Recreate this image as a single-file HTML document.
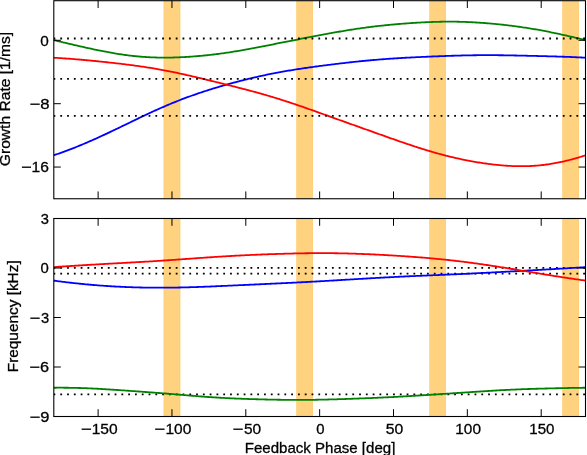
<!DOCTYPE html>
<html><head><meta charset="utf-8"><style>
html,body{margin:0;padding:0;background:#fff;width:587px;height:455px;overflow:hidden;font-family:"Liberation Sans",sans-serif}
</style></head><body>
<svg width="587" height="455" viewBox="0 0 587 455" style="display:block;will-change:transform">
<rect width="587" height="455" fill="#fff"/>
<defs><clipPath id="ct"><rect x="53.8" y="0.7" width="531.7" height="198.05"/></clipPath><clipPath id="cb"><rect x="53.8" y="218.5" width="531.7" height="198"/></clipPath></defs>
<g clip-path="url(#ct)">
<rect x="163.60" y="-1.3" width="16.70" height="202.05" fill="#ffa500" fill-opacity="0.5"/>
<rect x="163.90" y="-1.3" width="16.10" height="202.05" fill="none" stroke="#ffa500" stroke-opacity="0.15" stroke-width="0.8"/>
<rect x="296.30" y="-1.3" width="16.60" height="202.05" fill="#ffa500" fill-opacity="0.5"/>
<rect x="296.60" y="-1.3" width="16.00" height="202.05" fill="none" stroke="#ffa500" stroke-opacity="0.15" stroke-width="0.8"/>
<rect x="429.30" y="-1.3" width="16.60" height="202.05" fill="#ffa500" fill-opacity="0.5"/>
<rect x="429.60" y="-1.3" width="16.00" height="202.05" fill="none" stroke="#ffa500" stroke-opacity="0.15" stroke-width="0.8"/>
<rect x="562.30" y="-1.3" width="16.60" height="202.05" fill="#ffa500" fill-opacity="0.5"/>
<rect x="562.60" y="-1.3" width="16.00" height="202.05" fill="none" stroke="#ffa500" stroke-opacity="0.15" stroke-width="0.8"/>
<path d="M53.50,155.32 L54.83,154.89 L56.17,154.44 L57.50,153.99 L58.83,153.53 L60.17,153.07 L61.50,152.59 L62.83,152.12 L64.17,151.63 L65.50,151.14 L66.83,150.65 L68.17,150.15 L69.50,149.64 L70.83,149.13 L72.17,148.61 L73.50,148.09 L74.83,147.56 L76.17,147.02 L77.50,146.49 L78.83,145.94 L80.17,145.39 L81.50,144.84 L82.83,144.28 L84.17,143.72 L85.50,143.15 L86.83,142.58 L88.17,142.01 L89.50,141.43 L90.83,140.84 L92.17,140.26 L93.50,139.66 L94.83,139.07 L96.17,138.47 L97.50,137.87 L98.83,137.26 L100.17,136.65 L101.50,136.04 L102.83,135.42 L104.17,134.81 L105.50,134.18 L106.83,133.56 L108.17,132.93 L109.50,132.31 L110.83,131.67 L112.17,131.04 L113.50,130.40 L114.83,129.77 L116.17,129.13 L117.50,128.49 L118.83,127.85 L120.17,127.20 L121.50,126.56 L122.83,125.91 L124.17,125.27 L125.50,124.62 L126.83,123.98 L128.17,123.33 L129.50,122.69 L130.83,122.04 L132.17,121.39 L133.50,120.75 L134.83,120.11 L136.17,119.46 L137.50,118.82 L138.83,118.18 L140.17,117.54 L141.50,116.91 L142.83,116.27 L144.17,115.64 L145.50,115.01 L146.83,114.39 L148.17,113.76 L149.50,113.14 L150.83,112.52 L152.17,111.91 L153.50,111.30 L154.83,110.69 L156.17,110.09 L157.50,109.49 L158.83,108.89 L160.17,108.30 L161.50,107.71 L162.83,107.13 L164.17,106.55 L165.50,105.98 L166.83,105.41 L168.17,104.84 L169.50,104.28 L170.83,103.73 L172.17,103.18 L173.50,102.63 L174.83,102.09 L176.17,101.56 L177.50,101.03 L178.83,100.50 L180.17,99.98 L181.50,99.46 L182.83,98.95 L184.17,98.45 L185.50,97.95 L186.83,97.45 L188.17,96.96 L189.50,96.48 L190.83,95.99 L192.17,95.52 L193.50,95.05 L194.83,94.58 L196.17,94.12 L197.50,93.66 L198.83,93.20 L200.17,92.75 L201.50,92.31 L202.83,91.87 L204.17,91.43 L205.50,91.00 L206.83,90.57 L208.17,90.14 L209.50,89.72 L210.83,89.30 L212.17,88.89 L213.50,88.48 L214.83,88.07 L216.17,87.67 L217.50,87.27 L218.83,86.87 L220.17,86.48 L221.50,86.09 L222.83,85.70 L224.17,85.32 L225.50,84.94 L226.83,84.56 L228.17,84.19 L229.50,83.82 L230.83,83.45 L232.17,83.09 L233.50,82.73 L234.83,82.37 L236.17,82.01 L237.50,81.66 L238.83,81.31 L240.17,80.97 L241.50,80.63 L242.83,80.29 L244.17,79.95 L245.50,79.62 L246.83,79.29 L248.17,78.96 L249.50,78.64 L250.83,78.32 L252.17,78.00 L253.50,77.69 L254.83,77.38 L256.17,77.07 L257.50,76.76 L258.83,76.46 L260.17,76.17 L261.50,75.87 L262.83,75.58 L264.17,75.30 L265.50,75.01 L266.83,74.74 L268.17,74.46 L269.50,74.19 L270.83,73.92 L272.17,73.65 L273.50,73.39 L274.83,73.13 L276.17,72.87 L277.50,72.62 L278.83,72.37 L280.17,72.13 L281.50,71.88 L282.83,71.64 L284.17,71.41 L285.50,71.17 L286.83,70.94 L288.17,70.72 L289.50,70.49 L290.83,70.27 L292.17,70.05 L293.50,69.84 L294.83,69.62 L296.17,69.41 L297.50,69.20 L298.83,69.00 L300.17,68.80 L301.50,68.59 L302.83,68.40 L304.17,68.20 L305.50,68.00 L306.83,67.81 L308.17,67.62 L309.50,67.43 L310.83,67.24 L312.17,67.06 L313.50,66.88 L314.83,66.69 L316.17,66.51 L317.50,66.33 L318.83,66.16 L320.17,65.98 L321.50,65.80 L322.83,65.63 L324.17,65.46 L325.50,65.29 L326.83,65.12 L328.17,64.95 L329.50,64.78 L330.83,64.61 L332.17,64.45 L333.50,64.29 L334.83,64.12 L336.17,63.96 L337.50,63.80 L338.83,63.64 L340.17,63.48 L341.50,63.33 L342.83,63.17 L344.17,63.02 L345.50,62.86 L346.83,62.71 L348.17,62.56 L349.50,62.41 L350.83,62.26 L352.17,62.12 L353.50,61.97 L354.83,61.83 L356.17,61.69 L357.50,61.55 L358.83,61.41 L360.17,61.27 L361.50,61.14 L362.83,61.01 L364.17,60.87 L365.50,60.74 L366.83,60.62 L368.17,60.49 L369.50,60.37 L370.83,60.25 L372.17,60.13 L373.50,60.01 L374.83,59.89 L376.17,59.78 L377.50,59.67 L378.83,59.56 L380.17,59.45 L381.50,59.35 L382.83,59.24 L384.17,59.14 L385.50,59.04 L386.83,58.95 L388.17,58.85 L389.50,58.76 L390.83,58.66 L392.17,58.57 L393.50,58.49 L394.83,58.40 L396.17,58.32 L397.50,58.23 L398.83,58.15 L400.17,58.07 L401.50,57.99 L402.83,57.92 L404.17,57.84 L405.50,57.77 L406.83,57.70 L408.17,57.62 L409.50,57.55 L410.83,57.49 L412.17,57.42 L413.50,57.35 L414.83,57.29 L416.17,57.22 L417.50,57.16 L418.83,57.09 L420.17,57.03 L421.50,56.97 L422.83,56.91 L424.17,56.85 L425.50,56.79 L426.83,56.73 L428.17,56.68 L429.50,56.62 L430.83,56.56 L432.17,56.51 L433.50,56.45 L434.83,56.40 L436.17,56.35 L437.50,56.29 L438.83,56.24 L440.17,56.19 L441.50,56.14 L442.83,56.09 L444.17,56.04 L445.50,56.00 L446.83,55.95 L448.17,55.90 L449.50,55.86 L450.83,55.81 L452.17,55.77 L453.50,55.73 L454.83,55.69 L456.17,55.65 L457.50,55.61 L458.83,55.57 L460.17,55.54 L461.50,55.50 L462.83,55.47 L464.17,55.44 L465.50,55.41 L466.83,55.38 L468.17,55.35 L469.50,55.33 L470.83,55.31 L472.17,55.29 L473.50,55.27 L474.83,55.25 L476.17,55.23 L477.50,55.22 L478.83,55.20 L480.17,55.19 L481.50,55.18 L482.83,55.18 L484.17,55.17 L485.50,55.17 L486.83,55.17 L488.17,55.17 L489.50,55.17 L490.83,55.17 L492.17,55.18 L493.50,55.18 L494.83,55.19 L496.17,55.20 L497.50,55.21 L498.83,55.23 L500.17,55.24 L501.50,55.26 L502.83,55.27 L504.17,55.29 L505.50,55.31 L506.83,55.33 L508.17,55.36 L509.50,55.38 L510.83,55.40 L512.17,55.43 L513.50,55.45 L514.83,55.48 L516.17,55.51 L517.50,55.53 L518.83,55.56 L520.17,55.59 L521.50,55.62 L522.83,55.65 L524.17,55.68 L525.50,55.71 L526.83,55.75 L528.17,55.78 L529.50,55.81 L530.83,55.84 L532.17,55.87 L533.50,55.91 L534.83,55.94 L536.17,55.97 L537.50,56.01 L538.83,56.04 L540.17,56.07 L541.50,56.11 L542.83,56.14 L544.17,56.18 L545.50,56.21 L546.83,56.25 L548.17,56.28 L549.50,56.32 L550.83,56.36 L552.17,56.40 L553.50,56.43 L554.83,56.47 L556.17,56.51 L557.50,56.55 L558.83,56.60 L560.17,56.64 L561.50,56.68 L562.83,56.73 L564.17,56.77 L565.50,56.82 L566.83,56.87 L568.17,56.92 L569.50,56.97 L570.83,57.02 L572.17,57.08 L573.50,57.13 L574.83,57.19 L576.17,57.25 L577.50,57.31 L578.83,57.38 L580.17,57.44 L581.50,57.51 L582.83,57.58 L584.17,57.65 L585.50,57.72" fill="none" stroke="#0000ff" stroke-width="1.8" stroke-linejoin="round"/>
<path d="M53.50,57.72 L54.83,57.80 L56.17,57.87 L57.50,57.95 L58.83,58.04 L60.17,58.12 L61.50,58.21 L62.83,58.29 L64.17,58.38 L65.50,58.48 L66.83,58.57 L68.17,58.67 L69.50,58.77 L70.83,58.87 L72.17,58.97 L73.50,59.08 L74.83,59.18 L76.17,59.29 L77.50,59.40 L78.83,59.51 L80.17,59.63 L81.50,59.74 L82.83,59.86 L84.17,59.98 L85.50,60.10 L86.83,60.23 L88.17,60.35 L89.50,60.47 L90.83,60.60 L92.17,60.73 L93.50,60.86 L94.83,60.99 L96.17,61.12 L97.50,61.26 L98.83,61.39 L100.17,61.53 L101.50,61.67 L102.83,61.81 L104.17,61.95 L105.50,62.09 L106.83,62.23 L108.17,62.37 L109.50,62.52 L110.83,62.67 L112.17,62.81 L113.50,62.96 L114.83,63.11 L116.17,63.27 L117.50,63.42 L118.83,63.58 L120.17,63.73 L121.50,63.89 L122.83,64.05 L124.17,64.21 L125.50,64.38 L126.83,64.54 L128.17,64.71 L129.50,64.88 L130.83,65.05 L132.17,65.23 L133.50,65.41 L134.83,65.59 L136.17,65.77 L137.50,65.95 L138.83,66.14 L140.17,66.33 L141.50,66.52 L142.83,66.72 L144.17,66.92 L145.50,67.12 L146.83,67.32 L148.17,67.53 L149.50,67.75 L150.83,67.96 L152.17,68.18 L153.50,68.40 L154.83,68.63 L156.17,68.85 L157.50,69.09 L158.83,69.32 L160.17,69.56 L161.50,69.81 L162.83,70.05 L164.17,70.30 L165.50,70.56 L166.83,70.81 L168.17,71.07 L169.50,71.34 L170.83,71.60 L172.17,71.87 L173.50,72.15 L174.83,72.43 L176.17,72.71 L177.50,72.99 L178.83,73.27 L180.17,73.56 L181.50,73.85 L182.83,74.15 L184.17,74.45 L185.50,74.75 L186.83,75.05 L188.17,75.35 L189.50,75.66 L190.83,75.97 L192.17,76.28 L193.50,76.59 L194.83,76.90 L196.17,77.22 L197.50,77.53 L198.83,77.85 L200.17,78.17 L201.50,78.49 L202.83,78.81 L204.17,79.14 L205.50,79.46 L206.83,79.78 L208.17,80.11 L209.50,80.44 L210.83,80.76 L212.17,81.09 L213.50,81.42 L214.83,81.75 L216.17,82.08 L217.50,82.41 L218.83,82.74 L220.17,83.07 L221.50,83.40 L222.83,83.73 L224.17,84.06 L225.50,84.39 L226.83,84.73 L228.17,85.06 L229.50,85.40 L230.83,85.73 L232.17,86.07 L233.50,86.40 L234.83,86.74 L236.17,87.08 L237.50,87.42 L238.83,87.76 L240.17,88.10 L241.50,88.45 L242.83,88.79 L244.17,89.14 L245.50,89.49 L246.83,89.84 L248.17,90.19 L249.50,90.54 L250.83,90.90 L252.17,91.25 L253.50,91.61 L254.83,91.97 L256.17,92.34 L257.50,92.71 L258.83,93.08 L260.17,93.45 L261.50,93.82 L262.83,94.20 L264.17,94.58 L265.50,94.97 L266.83,95.35 L268.17,95.74 L269.50,96.13 L270.83,96.53 L272.17,96.93 L273.50,97.33 L274.83,97.74 L276.17,98.15 L277.50,98.56 L278.83,98.97 L280.17,99.39 L281.50,99.81 L282.83,100.24 L284.17,100.66 L285.50,101.09 L286.83,101.53 L288.17,101.96 L289.50,102.40 L290.83,102.84 L292.17,103.29 L293.50,103.73 L294.83,104.18 L296.17,104.64 L297.50,105.09 L298.83,105.55 L300.17,106.00 L301.50,106.46 L302.83,106.93 L304.17,107.39 L305.50,107.86 L306.83,108.32 L308.17,108.79 L309.50,109.26 L310.83,109.73 L312.17,110.21 L313.50,110.68 L314.83,111.15 L316.17,111.63 L317.50,112.10 L318.83,112.58 L320.17,113.06 L321.50,113.54 L322.83,114.01 L324.17,114.49 L325.50,114.97 L326.83,115.45 L328.17,115.93 L329.50,116.41 L330.83,116.88 L332.17,117.36 L333.50,117.84 L334.83,118.32 L336.17,118.80 L337.50,119.28 L338.83,119.75 L340.17,120.23 L341.50,120.71 L342.83,121.19 L344.17,121.66 L345.50,122.14 L346.83,122.62 L348.17,123.09 L349.50,123.57 L350.83,124.05 L352.17,124.52 L353.50,125.00 L354.83,125.47 L356.17,125.95 L357.50,126.42 L358.83,126.90 L360.17,127.37 L361.50,127.85 L362.83,128.32 L364.17,128.80 L365.50,129.27 L366.83,129.75 L368.17,130.22 L369.50,130.70 L370.83,131.17 L372.17,131.65 L373.50,132.12 L374.83,132.60 L376.17,133.07 L377.50,133.55 L378.83,134.02 L380.17,134.50 L381.50,134.97 L382.83,135.44 L384.17,135.92 L385.50,136.39 L386.83,136.86 L388.17,137.33 L389.50,137.81 L390.83,138.28 L392.17,138.74 L393.50,139.21 L394.83,139.68 L396.17,140.15 L397.50,140.61 L398.83,141.08 L400.17,141.54 L401.50,142.00 L402.83,142.46 L404.17,142.92 L405.50,143.37 L406.83,143.82 L408.17,144.27 L409.50,144.72 L410.83,145.17 L412.17,145.61 L413.50,146.05 L414.83,146.49 L416.17,146.93 L417.50,147.36 L418.83,147.79 L420.17,148.21 L421.50,148.63 L422.83,149.05 L424.17,149.47 L425.50,149.88 L426.83,150.28 L428.17,150.69 L429.50,151.08 L430.83,151.48 L432.17,151.87 L433.50,152.26 L434.83,152.64 L436.17,153.01 L437.50,153.39 L438.83,153.75 L440.17,154.12 L441.50,154.48 L442.83,154.83 L444.17,155.18 L445.50,155.52 L446.83,155.86 L448.17,156.20 L449.50,156.52 L450.83,156.85 L452.17,157.17 L453.50,157.48 L454.83,157.79 L456.17,158.10 L457.50,158.40 L458.83,158.69 L460.17,158.98 L461.50,159.27 L462.83,159.54 L464.17,159.82 L465.50,160.09 L466.83,160.35 L468.17,160.61 L469.50,160.87 L470.83,161.12 L472.17,161.36 L473.50,161.60 L474.83,161.83 L476.17,162.06 L477.50,162.28 L478.83,162.50 L480.17,162.71 L481.50,162.92 L482.83,163.12 L484.17,163.32 L485.50,163.51 L486.83,163.70 L488.17,163.88 L489.50,164.05 L490.83,164.22 L492.17,164.38 L493.50,164.54 L494.83,164.69 L496.17,164.83 L497.50,164.97 L498.83,165.10 L500.17,165.22 L501.50,165.34 L502.83,165.45 L504.17,165.56 L505.50,165.65 L506.83,165.74 L508.17,165.82 L509.50,165.90 L510.83,165.97 L512.17,166.03 L513.50,166.08 L514.83,166.12 L516.17,166.16 L517.50,166.19 L518.83,166.21 L520.17,166.22 L521.50,166.22 L522.83,166.21 L524.17,166.20 L525.50,166.17 L526.83,166.14 L528.17,166.10 L529.50,166.04 L530.83,165.98 L532.17,165.91 L533.50,165.83 L534.83,165.74 L536.17,165.64 L537.50,165.53 L538.83,165.41 L540.17,165.28 L541.50,165.15 L542.83,165.00 L544.17,164.84 L545.50,164.67 L546.83,164.49 L548.17,164.30 L549.50,164.11 L550.83,163.90 L552.17,163.68 L553.50,163.46 L554.83,163.22 L556.17,162.97 L557.50,162.72 L558.83,162.45 L560.17,162.18 L561.50,161.89 L562.83,161.60 L564.17,161.30 L565.50,160.99 L566.83,160.67 L568.17,160.34 L569.50,160.00 L570.83,159.66 L572.17,159.30 L573.50,158.94 L574.83,158.57 L576.17,158.19 L577.50,157.80 L578.83,157.41 L580.17,157.01 L581.50,156.60 L582.83,156.18 L584.17,155.76 L585.50,155.32" fill="none" stroke="#ff0000" stroke-width="1.8" stroke-linejoin="round"/>
<path d="M53.50,40.06 L54.83,40.37 L56.17,40.69 L57.50,41.01 L58.83,41.33 L60.17,41.64 L61.50,41.96 L62.83,42.28 L64.17,42.59 L65.50,42.91 L66.83,43.22 L68.17,43.54 L69.50,43.85 L70.83,44.16 L72.17,44.48 L73.50,44.79 L74.83,45.10 L76.17,45.41 L77.50,45.72 L78.83,46.02 L80.17,46.33 L81.50,46.63 L82.83,46.93 L84.17,47.23 L85.50,47.53 L86.83,47.83 L88.17,48.12 L89.50,48.41 L90.83,48.70 L92.17,48.99 L93.50,49.28 L94.83,49.56 L96.17,49.84 L97.50,50.12 L98.83,50.39 L100.17,50.66 L101.50,50.93 L102.83,51.19 L104.17,51.45 L105.50,51.71 L106.83,51.96 L108.17,52.21 L109.50,52.45 L110.83,52.69 L112.17,52.93 L113.50,53.16 L114.83,53.39 L116.17,53.61 L117.50,53.82 L118.83,54.04 L120.17,54.24 L121.50,54.44 L122.83,54.64 L124.17,54.83 L125.50,55.01 L126.83,55.19 L128.17,55.36 L129.50,55.53 L130.83,55.69 L132.17,55.84 L133.50,55.99 L134.83,56.13 L136.17,56.26 L137.50,56.39 L138.83,56.51 L140.17,56.63 L141.50,56.74 L142.83,56.84 L144.17,56.94 L145.50,57.02 L146.83,57.11 L148.17,57.18 L149.50,57.25 L150.83,57.32 L152.17,57.38 L153.50,57.43 L154.83,57.47 L156.17,57.51 L157.50,57.54 L158.83,57.57 L160.17,57.59 L161.50,57.61 L162.83,57.62 L164.17,57.62 L165.50,57.62 L166.83,57.61 L168.17,57.60 L169.50,57.58 L170.83,57.56 L172.17,57.53 L173.50,57.50 L174.83,57.46 L176.17,57.42 L177.50,57.37 L178.83,57.32 L180.17,57.26 L181.50,57.20 L182.83,57.13 L184.17,57.06 L185.50,56.99 L186.83,56.91 L188.17,56.83 L189.50,56.74 L190.83,56.65 L192.17,56.56 L193.50,56.46 L194.83,56.35 L196.17,56.25 L197.50,56.14 L198.83,56.02 L200.17,55.90 L201.50,55.78 L202.83,55.65 L204.17,55.52 L205.50,55.39 L206.83,55.25 L208.17,55.11 L209.50,54.96 L210.83,54.81 L212.17,54.66 L213.50,54.50 L214.83,54.34 L216.17,54.18 L217.50,54.01 L218.83,53.84 L220.17,53.66 L221.50,53.48 L222.83,53.30 L224.17,53.11 L225.50,52.92 L226.83,52.72 L228.17,52.52 L229.50,52.32 L230.83,52.12 L232.17,51.91 L233.50,51.70 L234.83,51.48 L236.17,51.26 L237.50,51.04 L238.83,50.82 L240.17,50.59 L241.50,50.36 L242.83,50.12 L244.17,49.89 L245.50,49.65 L246.83,49.41 L248.17,49.17 L249.50,48.92 L250.83,48.68 L252.17,48.43 L253.50,48.18 L254.83,47.92 L256.17,47.67 L257.50,47.41 L258.83,47.16 L260.17,46.90 L261.50,46.64 L262.83,46.38 L264.17,46.12 L265.50,45.85 L266.83,45.59 L268.17,45.33 L269.50,45.06 L270.83,44.80 L272.17,44.53 L273.50,44.27 L274.83,44.00 L276.17,43.74 L277.50,43.47 L278.83,43.21 L280.17,42.94 L281.50,42.68 L282.83,42.41 L284.17,42.15 L285.50,41.88 L286.83,41.62 L288.17,41.35 L289.50,41.09 L290.83,40.82 L292.17,40.56 L293.50,40.30 L294.83,40.04 L296.17,39.77 L297.50,39.51 L298.83,39.25 L300.17,38.99 L301.50,38.73 L302.83,38.47 L304.17,38.21 L305.50,37.95 L306.83,37.69 L308.17,37.43 L309.50,37.18 L310.83,36.92 L312.17,36.66 L313.50,36.41 L314.83,36.15 L316.17,35.90 L317.50,35.65 L318.83,35.39 L320.17,35.14 L321.50,34.89 L322.83,34.64 L324.17,34.39 L325.50,34.15 L326.83,33.90 L328.17,33.65 L329.50,33.41 L330.83,33.17 L332.17,32.93 L333.50,32.69 L334.83,32.45 L336.17,32.21 L337.50,31.98 L338.83,31.74 L340.17,31.51 L341.50,31.28 L342.83,31.06 L344.17,30.83 L345.50,30.61 L346.83,30.39 L348.17,30.17 L349.50,29.96 L350.83,29.75 L352.17,29.54 L353.50,29.33 L354.83,29.13 L356.17,28.93 L357.50,28.73 L358.83,28.53 L360.17,28.34 L361.50,28.15 L362.83,27.96 L364.17,27.78 L365.50,27.60 L366.83,27.42 L368.17,27.25 L369.50,27.08 L370.83,26.91 L372.17,26.74 L373.50,26.58 L374.83,26.42 L376.17,26.26 L377.50,26.11 L378.83,25.96 L380.17,25.81 L381.50,25.67 L382.83,25.52 L384.17,25.38 L385.50,25.25 L386.83,25.11 L388.17,24.98 L389.50,24.85 L390.83,24.72 L392.17,24.60 L393.50,24.48 L394.83,24.36 L396.17,24.24 L397.50,24.13 L398.83,24.02 L400.17,23.91 L401.50,23.80 L402.83,23.69 L404.17,23.59 L405.50,23.49 L406.83,23.39 L408.17,23.29 L409.50,23.20 L410.83,23.11 L412.17,23.02 L413.50,22.93 L414.83,22.84 L416.17,22.76 L417.50,22.68 L418.83,22.60 L420.17,22.53 L421.50,22.46 L422.83,22.39 L424.17,22.32 L425.50,22.26 L426.83,22.20 L428.17,22.14 L429.50,22.08 L430.83,22.03 L432.17,21.98 L433.50,21.94 L434.83,21.89 L436.17,21.85 L437.50,21.82 L438.83,21.79 L440.17,21.76 L441.50,21.73 L442.83,21.71 L444.17,21.70 L445.50,21.68 L446.83,21.67 L448.17,21.67 L449.50,21.67 L450.83,21.67 L452.17,21.67 L453.50,21.68 L454.83,21.70 L456.17,21.72 L457.50,21.74 L458.83,21.77 L460.17,21.80 L461.50,21.83 L462.83,21.87 L464.17,21.91 L465.50,21.96 L466.83,22.01 L468.17,22.07 L469.50,22.12 L470.83,22.19 L472.17,22.25 L473.50,22.32 L474.83,22.40 L476.17,22.48 L477.50,22.56 L478.83,22.64 L480.17,22.73 L481.50,22.82 L482.83,22.92 L484.17,23.02 L485.50,23.12 L486.83,23.23 L488.17,23.34 L489.50,23.45 L490.83,23.56 L492.17,23.68 L493.50,23.81 L494.83,23.93 L496.17,24.06 L497.50,24.19 L498.83,24.33 L500.17,24.47 L501.50,24.61 L502.83,24.76 L504.17,24.90 L505.50,25.06 L506.83,25.21 L508.17,25.37 L509.50,25.53 L510.83,25.69 L512.17,25.86 L513.50,26.03 L514.83,26.21 L516.17,26.39 L517.50,26.57 L518.83,26.75 L520.17,26.94 L521.50,27.13 L522.83,27.33 L524.17,27.53 L525.50,27.73 L526.83,27.94 L528.17,28.15 L529.50,28.36 L530.83,28.58 L532.17,28.80 L533.50,29.02 L534.83,29.25 L536.17,29.48 L537.50,29.72 L538.83,29.96 L540.17,30.20 L541.50,30.44 L542.83,30.69 L544.17,30.95 L545.50,31.20 L546.83,31.46 L548.17,31.73 L549.50,31.99 L550.83,32.26 L552.17,32.53 L553.50,32.81 L554.83,33.09 L556.17,33.37 L557.50,33.65 L558.83,33.94 L560.17,34.23 L561.50,34.52 L562.83,34.81 L564.17,35.11 L565.50,35.41 L566.83,35.71 L568.17,36.01 L569.50,36.31 L570.83,36.62 L572.17,36.93 L573.50,37.24 L574.83,37.55 L576.17,37.86 L577.50,38.17 L578.83,38.48 L580.17,38.80 L581.50,39.11 L582.83,39.43 L584.17,39.74 L585.50,40.06" fill="none" stroke="#008000" stroke-width="1.8" stroke-linejoin="round"/>
<line x1="53.8" y1="38.5" x2="585.5" y2="38.5" stroke="#000" stroke-width="1.8" stroke-dasharray="1.8 4.991" stroke-dashoffset="0.3"/>
<line x1="53.8" y1="78.8" x2="585.5" y2="78.8" stroke="#000" stroke-width="1.8" stroke-dasharray="1.8 4.991" stroke-dashoffset="0.3"/>
<line x1="53.8" y1="115.9" x2="585.5" y2="115.9" stroke="#000" stroke-width="1.8" stroke-dasharray="1.8 4.991" stroke-dashoffset="0.3"/>
</g>
<rect x="53.8" y="0.7" width="531.7" height="198.05" fill="none" stroke="#000" stroke-width="1.1"/>
<line x1="98.11" y1="0.7" x2="98.11" y2="8.0" stroke="#000" stroke-width="1.0"/>
<line x1="98.11" y1="198.75" x2="98.11" y2="191.45" stroke="#000" stroke-width="1.0"/>
<line x1="171.96" y1="0.7" x2="171.96" y2="8.0" stroke="#000" stroke-width="1.0"/>
<line x1="171.96" y1="198.75" x2="171.96" y2="191.45" stroke="#000" stroke-width="1.0"/>
<line x1="245.80" y1="0.7" x2="245.80" y2="8.0" stroke="#000" stroke-width="1.0"/>
<line x1="245.80" y1="198.75" x2="245.80" y2="191.45" stroke="#000" stroke-width="1.0"/>
<line x1="319.65" y1="0.7" x2="319.65" y2="8.0" stroke="#000" stroke-width="1.0"/>
<line x1="319.65" y1="198.75" x2="319.65" y2="191.45" stroke="#000" stroke-width="1.0"/>
<line x1="393.50" y1="0.7" x2="393.50" y2="8.0" stroke="#000" stroke-width="1.0"/>
<line x1="393.50" y1="198.75" x2="393.50" y2="191.45" stroke="#000" stroke-width="1.0"/>
<line x1="467.34" y1="0.7" x2="467.34" y2="8.0" stroke="#000" stroke-width="1.0"/>
<line x1="467.34" y1="198.75" x2="467.34" y2="191.45" stroke="#000" stroke-width="1.0"/>
<line x1="541.19" y1="0.7" x2="541.19" y2="8.0" stroke="#000" stroke-width="1.0"/>
<line x1="541.19" y1="198.75" x2="541.19" y2="191.45" stroke="#000" stroke-width="1.0"/>
<g clip-path="url(#cb)">
<rect x="163.60" y="216.5" width="16.70" height="202.0" fill="#ffa500" fill-opacity="0.5"/>
<rect x="163.90" y="216.5" width="16.10" height="202.0" fill="none" stroke="#ffa500" stroke-opacity="0.15" stroke-width="0.8"/>
<rect x="296.30" y="216.5" width="16.60" height="202.0" fill="#ffa500" fill-opacity="0.5"/>
<rect x="296.60" y="216.5" width="16.00" height="202.0" fill="none" stroke="#ffa500" stroke-opacity="0.15" stroke-width="0.8"/>
<rect x="429.30" y="216.5" width="16.60" height="202.0" fill="#ffa500" fill-opacity="0.5"/>
<rect x="429.60" y="216.5" width="16.00" height="202.0" fill="none" stroke="#ffa500" stroke-opacity="0.15" stroke-width="0.8"/>
<rect x="562.30" y="216.5" width="16.60" height="202.0" fill="#ffa500" fill-opacity="0.5"/>
<rect x="562.60" y="216.5" width="16.00" height="202.0" fill="none" stroke="#ffa500" stroke-opacity="0.15" stroke-width="0.8"/>
<line x1="53.8" y1="267.8" x2="585.5" y2="267.8" stroke="#000" stroke-width="1.8" stroke-dasharray="1.8 4.991" stroke-dashoffset="0.3"/>
<line x1="53.8" y1="273.55" x2="585.5" y2="273.55" stroke="#000" stroke-width="1.8" stroke-dasharray="1.8 4.991" stroke-dashoffset="0.3"/>
<line x1="53.8" y1="394.3" x2="585.5" y2="394.3" stroke="#000" stroke-width="1.8" stroke-dasharray="1.8 4.991" stroke-dashoffset="0.3"/>
<path d="M53.50,280.58 L54.83,280.75 L56.17,280.93 L57.50,281.11 L58.83,281.28 L60.17,281.45 L61.50,281.62 L62.83,281.78 L64.17,281.95 L65.50,282.11 L66.83,282.27 L68.17,282.43 L69.50,282.59 L70.83,282.74 L72.17,282.89 L73.50,283.04 L74.83,283.19 L76.17,283.33 L77.50,283.47 L78.83,283.61 L80.17,283.75 L81.50,283.88 L82.83,284.02 L84.17,284.15 L85.50,284.28 L86.83,284.40 L88.17,284.52 L89.50,284.65 L90.83,284.76 L92.17,284.88 L93.50,284.99 L94.83,285.11 L96.17,285.21 L97.50,285.32 L98.83,285.42 L100.17,285.53 L101.50,285.63 L102.83,285.72 L104.17,285.82 L105.50,285.91 L106.83,286.00 L108.17,286.09 L109.50,286.17 L110.83,286.25 L112.17,286.33 L113.50,286.41 L114.83,286.49 L116.17,286.56 L117.50,286.63 L118.83,286.70 L120.17,286.77 L121.50,286.83 L122.83,286.89 L124.17,286.95 L125.50,287.01 L126.83,287.06 L128.17,287.12 L129.50,287.17 L130.83,287.21 L132.17,287.26 L133.50,287.30 L134.83,287.34 L136.17,287.38 L137.50,287.42 L138.83,287.45 L140.17,287.49 L141.50,287.52 L142.83,287.54 L144.17,287.57 L145.50,287.59 L146.83,287.61 L148.17,287.63 L149.50,287.65 L150.83,287.67 L152.17,287.68 L153.50,287.69 L154.83,287.70 L156.17,287.70 L157.50,287.71 L158.83,287.71 L160.17,287.71 L161.50,287.71 L162.83,287.71 L164.17,287.70 L165.50,287.69 L166.83,287.68 L168.17,287.67 L169.50,287.66 L170.83,287.64 L172.17,287.62 L173.50,287.61 L174.83,287.59 L176.17,287.56 L177.50,287.54 L178.83,287.51 L180.17,287.48 L181.50,287.46 L182.83,287.42 L184.17,287.39 L185.50,287.36 L186.83,287.32 L188.17,287.29 L189.50,287.25 L190.83,287.21 L192.17,287.17 L193.50,287.13 L194.83,287.08 L196.17,287.04 L197.50,286.99 L198.83,286.94 L200.17,286.90 L201.50,286.85 L202.83,286.80 L204.17,286.75 L205.50,286.69 L206.83,286.64 L208.17,286.59 L209.50,286.53 L210.83,286.48 L212.17,286.42 L213.50,286.37 L214.83,286.31 L216.17,286.25 L217.50,286.19 L218.83,286.14 L220.17,286.08 L221.50,286.02 L222.83,285.96 L224.17,285.90 L225.50,285.84 L226.83,285.78 L228.17,285.72 L229.50,285.65 L230.83,285.59 L232.17,285.53 L233.50,285.47 L234.83,285.41 L236.17,285.35 L237.50,285.29 L238.83,285.22 L240.17,285.16 L241.50,285.10 L242.83,285.04 L244.17,284.98 L245.50,284.92 L246.83,284.85 L248.17,284.79 L249.50,284.73 L250.83,284.67 L252.17,284.61 L253.50,284.55 L254.83,284.48 L256.17,284.42 L257.50,284.36 L258.83,284.30 L260.17,284.24 L261.50,284.18 L262.83,284.12 L264.17,284.05 L265.50,283.99 L266.83,283.93 L268.17,283.87 L269.50,283.81 L270.83,283.75 L272.17,283.69 L273.50,283.62 L274.83,283.56 L276.17,283.50 L277.50,283.44 L278.83,283.38 L280.17,283.31 L281.50,283.25 L282.83,283.19 L284.17,283.12 L285.50,283.06 L286.83,283.00 L288.17,282.93 L289.50,282.87 L290.83,282.80 L292.17,282.74 L293.50,282.67 L294.83,282.60 L296.17,282.54 L297.50,282.47 L298.83,282.40 L300.17,282.33 L301.50,282.27 L302.83,282.20 L304.17,282.13 L305.50,282.06 L306.83,281.99 L308.17,281.92 L309.50,281.85 L310.83,281.77 L312.17,281.70 L313.50,281.63 L314.83,281.56 L316.17,281.48 L317.50,281.41 L318.83,281.33 L320.17,281.26 L321.50,281.18 L322.83,281.11 L324.17,281.03 L325.50,280.96 L326.83,280.88 L328.17,280.80 L329.50,280.72 L330.83,280.64 L332.17,280.57 L333.50,280.49 L334.83,280.41 L336.17,280.33 L337.50,280.25 L338.83,280.17 L340.17,280.09 L341.50,280.01 L342.83,279.93 L344.17,279.85 L345.50,279.77 L346.83,279.69 L348.17,279.61 L349.50,279.53 L350.83,279.45 L352.17,279.37 L353.50,279.29 L354.83,279.21 L356.17,279.13 L357.50,279.05 L358.83,278.97 L360.17,278.89 L361.50,278.81 L362.83,278.73 L364.17,278.65 L365.50,278.57 L366.83,278.49 L368.17,278.42 L369.50,278.34 L370.83,278.26 L372.17,278.19 L373.50,278.11 L374.83,278.04 L376.17,277.96 L377.50,277.89 L378.83,277.81 L380.17,277.74 L381.50,277.67 L382.83,277.59 L384.17,277.52 L385.50,277.45 L386.83,277.38 L388.17,277.31 L389.50,277.24 L390.83,277.17 L392.17,277.10 L393.50,277.04 L394.83,276.97 L396.17,276.90 L397.50,276.84 L398.83,276.77 L400.17,276.71 L401.50,276.64 L402.83,276.58 L404.17,276.52 L405.50,276.45 L406.83,276.39 L408.17,276.33 L409.50,276.27 L410.83,276.21 L412.17,276.15 L413.50,276.09 L414.83,276.03 L416.17,275.97 L417.50,275.91 L418.83,275.85 L420.17,275.79 L421.50,275.74 L422.83,275.68 L424.17,275.62 L425.50,275.56 L426.83,275.51 L428.17,275.45 L429.50,275.39 L430.83,275.33 L432.17,275.28 L433.50,275.22 L434.83,275.16 L436.17,275.11 L437.50,275.05 L438.83,274.99 L440.17,274.94 L441.50,274.88 L442.83,274.82 L444.17,274.76 L445.50,274.70 L446.83,274.65 L448.17,274.59 L449.50,274.53 L450.83,274.47 L452.17,274.41 L453.50,274.35 L454.83,274.29 L456.17,274.23 L457.50,274.17 L458.83,274.11 L460.17,274.05 L461.50,273.99 L462.83,273.93 L464.17,273.86 L465.50,273.80 L466.83,273.74 L468.17,273.67 L469.50,273.61 L470.83,273.55 L472.17,273.48 L473.50,273.42 L474.83,273.35 L476.17,273.28 L477.50,273.22 L478.83,273.15 L480.17,273.09 L481.50,273.02 L482.83,272.95 L484.17,272.88 L485.50,272.81 L486.83,272.75 L488.17,272.68 L489.50,272.61 L490.83,272.54 L492.17,272.47 L493.50,272.40 L494.83,272.33 L496.17,272.26 L497.50,272.19 L498.83,272.12 L500.17,272.04 L501.50,271.97 L502.83,271.90 L504.17,271.83 L505.50,271.76 L506.83,271.69 L508.17,271.62 L509.50,271.54 L510.83,271.47 L512.17,271.40 L513.50,271.33 L514.83,271.25 L516.17,271.18 L517.50,271.11 L518.83,271.03 L520.17,270.96 L521.50,270.89 L522.83,270.82 L524.17,270.74 L525.50,270.67 L526.83,270.59 L528.17,270.52 L529.50,270.45 L530.83,270.37 L532.17,270.30 L533.50,270.22 L534.83,270.15 L536.17,270.07 L537.50,270.00 L538.83,269.92 L540.17,269.85 L541.50,269.77 L542.83,269.70 L544.17,269.62 L545.50,269.55 L546.83,269.47 L548.17,269.39 L549.50,269.31 L550.83,269.24 L552.17,269.16 L553.50,269.08 L554.83,269.00 L556.17,268.92 L557.50,268.85 L558.83,268.77 L560.17,268.69 L561.50,268.61 L562.83,268.53 L564.17,268.45 L565.50,268.36 L566.83,268.28 L568.17,268.20 L569.50,268.12 L570.83,268.04 L572.17,267.95 L573.50,267.87 L574.83,267.79 L576.17,267.70 L577.50,267.62 L578.83,267.54 L580.17,267.45 L581.50,267.37 L582.83,267.28 L584.17,267.20 L585.50,267.11" fill="none" stroke="#0000ff" stroke-width="1.8" stroke-linejoin="round"/>
<path d="M53.50,267.11 L54.83,267.03 L56.17,266.94 L57.50,266.86 L58.83,266.77 L60.17,266.69 L61.50,266.60 L62.83,266.52 L64.17,266.43 L65.50,266.34 L66.83,266.26 L68.17,266.17 L69.50,266.09 L70.83,266.00 L72.17,265.92 L73.50,265.83 L74.83,265.75 L76.17,265.67 L77.50,265.58 L78.83,265.50 L80.17,265.42 L81.50,265.33 L82.83,265.25 L84.17,265.17 L85.50,265.09 L86.83,265.01 L88.17,264.92 L89.50,264.84 L90.83,264.76 L92.17,264.69 L93.50,264.61 L94.83,264.53 L96.17,264.45 L97.50,264.37 L98.83,264.29 L100.17,264.22 L101.50,264.14 L102.83,264.07 L104.17,263.99 L105.50,263.91 L106.83,263.84 L108.17,263.77 L109.50,263.69 L110.83,263.62 L112.17,263.54 L113.50,263.47 L114.83,263.40 L116.17,263.32 L117.50,263.25 L118.83,263.18 L120.17,263.11 L121.50,263.03 L122.83,262.96 L124.17,262.89 L125.50,262.81 L126.83,262.74 L128.17,262.67 L129.50,262.60 L130.83,262.52 L132.17,262.45 L133.50,262.37 L134.83,262.30 L136.17,262.22 L137.50,262.15 L138.83,262.07 L140.17,262.00 L141.50,261.92 L142.83,261.84 L144.17,261.77 L145.50,261.69 L146.83,261.61 L148.17,261.53 L149.50,261.45 L150.83,261.37 L152.17,261.28 L153.50,261.20 L154.83,261.12 L156.17,261.03 L157.50,260.95 L158.83,260.86 L160.17,260.78 L161.50,260.69 L162.83,260.60 L164.17,260.51 L165.50,260.43 L166.83,260.34 L168.17,260.25 L169.50,260.15 L170.83,260.06 L172.17,259.97 L173.50,259.88 L174.83,259.78 L176.17,259.69 L177.50,259.60 L178.83,259.50 L180.17,259.41 L181.50,259.31 L182.83,259.22 L184.17,259.12 L185.50,259.02 L186.83,258.93 L188.17,258.83 L189.50,258.73 L190.83,258.64 L192.17,258.54 L193.50,258.45 L194.83,258.35 L196.17,258.25 L197.50,258.16 L198.83,258.06 L200.17,257.97 L201.50,257.87 L202.83,257.78 L204.17,257.69 L205.50,257.59 L206.83,257.50 L208.17,257.41 L209.50,257.32 L210.83,257.23 L212.17,257.14 L213.50,257.05 L214.83,256.96 L216.17,256.88 L217.50,256.79 L218.83,256.70 L220.17,256.62 L221.50,256.54 L222.83,256.45 L224.17,256.37 L225.50,256.29 L226.83,256.21 L228.17,256.14 L229.50,256.06 L230.83,255.98 L232.17,255.91 L233.50,255.83 L234.83,255.76 L236.17,255.69 L237.50,255.62 L238.83,255.55 L240.17,255.48 L241.50,255.41 L242.83,255.34 L244.17,255.28 L245.50,255.21 L246.83,255.15 L248.17,255.09 L249.50,255.03 L250.83,254.97 L252.17,254.91 L253.50,254.85 L254.83,254.79 L256.17,254.73 L257.50,254.68 L258.83,254.62 L260.17,254.57 L261.50,254.51 L262.83,254.46 L264.17,254.41 L265.50,254.36 L266.83,254.31 L268.17,254.26 L269.50,254.21 L270.83,254.16 L272.17,254.12 L273.50,254.07 L274.83,254.03 L276.17,253.98 L277.50,253.94 L278.83,253.90 L280.17,253.86 L281.50,253.82 L282.83,253.78 L284.17,253.74 L285.50,253.70 L286.83,253.66 L288.17,253.63 L289.50,253.59 L290.83,253.56 L292.17,253.53 L293.50,253.50 L294.83,253.47 L296.17,253.44 L297.50,253.41 L298.83,253.38 L300.17,253.36 L301.50,253.33 L302.83,253.31 L304.17,253.29 L305.50,253.27 L306.83,253.25 L308.17,253.23 L309.50,253.22 L310.83,253.20 L312.17,253.19 L313.50,253.18 L314.83,253.17 L316.17,253.16 L317.50,253.15 L318.83,253.15 L320.17,253.15 L321.50,253.15 L322.83,253.15 L324.17,253.15 L325.50,253.15 L326.83,253.16 L328.17,253.17 L329.50,253.18 L330.83,253.19 L332.17,253.20 L333.50,253.22 L334.83,253.23 L336.17,253.25 L337.50,253.27 L338.83,253.29 L340.17,253.32 L341.50,253.34 L342.83,253.37 L344.17,253.40 L345.50,253.43 L346.83,253.47 L348.17,253.50 L349.50,253.54 L350.83,253.58 L352.17,253.62 L353.50,253.66 L354.83,253.70 L356.17,253.75 L357.50,253.79 L358.83,253.84 L360.17,253.89 L361.50,253.94 L362.83,253.99 L364.17,254.05 L365.50,254.10 L366.83,254.16 L368.17,254.22 L369.50,254.27 L370.83,254.34 L372.17,254.40 L373.50,254.46 L374.83,254.52 L376.17,254.59 L377.50,254.66 L378.83,254.72 L380.17,254.79 L381.50,254.86 L382.83,254.93 L384.17,255.01 L385.50,255.08 L386.83,255.16 L388.17,255.23 L389.50,255.31 L390.83,255.39 L392.17,255.46 L393.50,255.54 L394.83,255.62 L396.17,255.71 L397.50,255.79 L398.83,255.87 L400.17,255.96 L401.50,256.05 L402.83,256.13 L404.17,256.22 L405.50,256.31 L406.83,256.40 L408.17,256.50 L409.50,256.59 L410.83,256.69 L412.17,256.78 L413.50,256.88 L414.83,256.98 L416.17,257.08 L417.50,257.18 L418.83,257.28 L420.17,257.39 L421.50,257.50 L422.83,257.60 L424.17,257.71 L425.50,257.82 L426.83,257.94 L428.17,258.05 L429.50,258.17 L430.83,258.29 L432.17,258.41 L433.50,258.53 L434.83,258.65 L436.17,258.78 L437.50,258.90 L438.83,259.03 L440.17,259.16 L441.50,259.30 L442.83,259.43 L444.17,259.57 L445.50,259.71 L446.83,259.85 L448.17,259.99 L449.50,260.14 L450.83,260.28 L452.17,260.43 L453.50,260.59 L454.83,260.74 L456.17,260.89 L457.50,261.05 L458.83,261.21 L460.17,261.37 L461.50,261.54 L462.83,261.70 L464.17,261.87 L465.50,262.04 L466.83,262.21 L468.17,262.39 L469.50,262.56 L470.83,262.74 L472.17,262.92 L473.50,263.10 L474.83,263.29 L476.17,263.47 L477.50,263.66 L478.83,263.85 L480.17,264.04 L481.50,264.23 L482.83,264.42 L484.17,264.62 L485.50,264.82 L486.83,265.01 L488.17,265.21 L489.50,265.42 L490.83,265.62 L492.17,265.82 L493.50,266.03 L494.83,266.23 L496.17,266.44 L497.50,266.65 L498.83,266.86 L500.17,267.07 L501.50,267.28 L502.83,267.50 L504.17,267.71 L505.50,267.92 L506.83,268.14 L508.17,268.36 L509.50,268.57 L510.83,268.79 L512.17,269.01 L513.50,269.23 L514.83,269.45 L516.17,269.67 L517.50,269.89 L518.83,270.11 L520.17,270.33 L521.50,270.55 L522.83,270.77 L524.17,270.99 L525.50,271.21 L526.83,271.43 L528.17,271.66 L529.50,271.88 L530.83,272.10 L532.17,272.32 L533.50,272.54 L534.83,272.76 L536.17,272.98 L537.50,273.21 L538.83,273.43 L540.17,273.65 L541.50,273.87 L542.83,274.08 L544.17,274.30 L545.50,274.52 L546.83,274.74 L548.17,274.95 L549.50,275.17 L550.83,275.39 L552.17,275.60 L553.50,275.81 L554.83,276.03 L556.17,276.24 L557.50,276.45 L558.83,276.66 L560.17,276.87 L561.50,277.08 L562.83,277.28 L564.17,277.49 L565.50,277.69 L566.83,277.90 L568.17,278.10 L569.50,278.30 L570.83,278.50 L572.17,278.69 L573.50,278.89 L574.83,279.08 L576.17,279.28 L577.50,279.47 L578.83,279.66 L580.17,279.84 L581.50,280.03 L582.83,280.21 L584.17,280.40 L585.50,280.58" fill="none" stroke="#ff0000" stroke-width="1.8" stroke-linejoin="round"/>
<path d="M53.50,387.74 L54.83,387.73 L56.17,387.73 L57.50,387.72 L58.83,387.72 L60.17,387.72 L61.50,387.72 L62.83,387.72 L64.17,387.73 L65.50,387.74 L66.83,387.75 L68.17,387.76 L69.50,387.78 L70.83,387.80 L72.17,387.82 L73.50,387.85 L74.83,387.88 L76.17,387.91 L77.50,387.94 L78.83,387.98 L80.17,388.02 L81.50,388.06 L82.83,388.11 L84.17,388.15 L85.50,388.20 L86.83,388.26 L88.17,388.31 L89.50,388.37 L90.83,388.43 L92.17,388.49 L93.50,388.56 L94.83,388.63 L96.17,388.70 L97.50,388.77 L98.83,388.84 L100.17,388.92 L101.50,388.99 L102.83,389.07 L104.17,389.15 L105.50,389.23 L106.83,389.32 L108.17,389.40 L109.50,389.48 L110.83,389.57 L112.17,389.66 L113.50,389.75 L114.83,389.83 L116.17,389.92 L117.50,390.01 L118.83,390.10 L120.17,390.19 L121.50,390.29 L122.83,390.38 L124.17,390.47 L125.50,390.56 L126.83,390.66 L128.17,390.75 L129.50,390.84 L130.83,390.94 L132.17,391.03 L133.50,391.12 L134.83,391.22 L136.17,391.31 L137.50,391.41 L138.83,391.50 L140.17,391.60 L141.50,391.69 L142.83,391.79 L144.17,391.89 L145.50,391.99 L146.83,392.08 L148.17,392.18 L149.50,392.28 L150.83,392.38 L152.17,392.48 L153.50,392.58 L154.83,392.68 L156.17,392.79 L157.50,392.89 L158.83,392.99 L160.17,393.10 L161.50,393.20 L162.83,393.31 L164.17,393.41 L165.50,393.52 L166.83,393.63 L168.17,393.74 L169.50,393.85 L170.83,393.96 L172.17,394.07 L173.50,394.18 L174.83,394.29 L176.17,394.40 L177.50,394.51 L178.83,394.63 L180.17,394.74 L181.50,394.85 L182.83,394.97 L184.17,395.08 L185.50,395.19 L186.83,395.30 L188.17,395.41 L189.50,395.53 L190.83,395.64 L192.17,395.75 L193.50,395.86 L194.83,395.96 L196.17,396.07 L197.50,396.18 L198.83,396.28 L200.17,396.39 L201.50,396.49 L202.83,396.59 L204.17,396.69 L205.50,396.79 L206.83,396.88 L208.17,396.98 L209.50,397.07 L210.83,397.16 L212.17,397.25 L213.50,397.34 L214.83,397.43 L216.17,397.51 L217.50,397.59 L218.83,397.67 L220.17,397.75 L221.50,397.83 L222.83,397.90 L224.17,397.97 L225.50,398.04 L226.83,398.11 L228.17,398.18 L229.50,398.24 L230.83,398.31 L232.17,398.37 L233.50,398.43 L234.83,398.49 L236.17,398.54 L237.50,398.60 L238.83,398.65 L240.17,398.70 L241.50,398.75 L242.83,398.80 L244.17,398.85 L245.50,398.90 L246.83,398.94 L248.17,398.99 L249.50,399.03 L250.83,399.07 L252.17,399.12 L253.50,399.16 L254.83,399.20 L256.17,399.23 L257.50,399.27 L258.83,399.31 L260.17,399.34 L261.50,399.38 L262.83,399.41 L264.17,399.45 L265.50,399.48 L266.83,399.51 L268.17,399.54 L269.50,399.57 L270.83,399.60 L272.17,399.63 L273.50,399.66 L274.83,399.68 L276.17,399.71 L277.50,399.73 L278.83,399.75 L280.17,399.77 L281.50,399.79 L282.83,399.81 L284.17,399.83 L285.50,399.85 L286.83,399.86 L288.17,399.87 L289.50,399.88 L290.83,399.89 L292.17,399.90 L293.50,399.91 L294.83,399.91 L296.17,399.92 L297.50,399.92 L298.83,399.92 L300.17,399.92 L301.50,399.91 L302.83,399.91 L304.17,399.90 L305.50,399.89 L306.83,399.88 L308.17,399.87 L309.50,399.86 L310.83,399.84 L312.17,399.82 L313.50,399.80 L314.83,399.78 L316.17,399.76 L317.50,399.74 L318.83,399.71 L320.17,399.69 L321.50,399.66 L322.83,399.63 L324.17,399.60 L325.50,399.57 L326.83,399.54 L328.17,399.50 L329.50,399.47 L330.83,399.43 L332.17,399.39 L333.50,399.36 L334.83,399.32 L336.17,399.28 L337.50,399.24 L338.83,399.20 L340.17,399.16 L341.50,399.11 L342.83,399.07 L344.17,399.03 L345.50,398.98 L346.83,398.94 L348.17,398.89 L349.50,398.85 L350.83,398.80 L352.17,398.76 L353.50,398.71 L354.83,398.66 L356.17,398.61 L357.50,398.56 L358.83,398.52 L360.17,398.47 L361.50,398.42 L362.83,398.37 L364.17,398.31 L365.50,398.26 L366.83,398.21 L368.17,398.16 L369.50,398.10 L370.83,398.05 L372.17,397.99 L373.50,397.94 L374.83,397.88 L376.17,397.82 L377.50,397.77 L378.83,397.71 L380.17,397.65 L381.50,397.59 L382.83,397.52 L384.17,397.46 L385.50,397.40 L386.83,397.33 L388.17,397.27 L389.50,397.20 L390.83,397.13 L392.17,397.07 L393.50,397.00 L394.83,396.93 L396.17,396.85 L397.50,396.78 L398.83,396.71 L400.17,396.63 L401.50,396.56 L402.83,396.48 L404.17,396.41 L405.50,396.33 L406.83,396.25 L408.17,396.17 L409.50,396.09 L410.83,396.01 L412.17,395.93 L413.50,395.85 L414.83,395.77 L416.17,395.68 L417.50,395.60 L418.83,395.52 L420.17,395.43 L421.50,395.35 L422.83,395.26 L424.17,395.18 L425.50,395.09 L426.83,395.01 L428.17,394.92 L429.50,394.84 L430.83,394.75 L432.17,394.66 L433.50,394.58 L434.83,394.49 L436.17,394.40 L437.50,394.32 L438.83,394.23 L440.17,394.14 L441.50,394.05 L442.83,393.97 L444.17,393.88 L445.50,393.79 L446.83,393.70 L448.17,393.61 L449.50,393.53 L450.83,393.44 L452.17,393.35 L453.50,393.26 L454.83,393.17 L456.17,393.08 L457.50,393.00 L458.83,392.91 L460.17,392.82 L461.50,392.73 L462.83,392.64 L464.17,392.55 L465.50,392.46 L466.83,392.37 L468.17,392.29 L469.50,392.20 L470.83,392.11 L472.17,392.02 L473.50,391.93 L474.83,391.84 L476.17,391.75 L477.50,391.67 L478.83,391.58 L480.17,391.49 L481.50,391.41 L482.83,391.32 L484.17,391.23 L485.50,391.15 L486.83,391.07 L488.17,390.98 L489.50,390.90 L490.83,390.82 L492.17,390.74 L493.50,390.66 L494.83,390.58 L496.17,390.50 L497.50,390.42 L498.83,390.35 L500.17,390.27 L501.50,390.20 L502.83,390.12 L504.17,390.05 L505.50,389.98 L506.83,389.92 L508.17,389.85 L509.50,389.78 L510.83,389.72 L512.17,389.66 L513.50,389.60 L514.83,389.54 L516.17,389.48 L517.50,389.42 L518.83,389.37 L520.17,389.32 L521.50,389.26 L522.83,389.21 L524.17,389.16 L525.50,389.12 L526.83,389.07 L528.17,389.02 L529.50,388.98 L530.83,388.94 L532.17,388.89 L533.50,388.85 L534.83,388.81 L536.17,388.77 L537.50,388.73 L538.83,388.70 L540.17,388.66 L541.50,388.62 L542.83,388.59 L544.17,388.55 L545.50,388.52 L546.83,388.48 L548.17,388.45 L549.50,388.42 L550.83,388.39 L552.17,388.35 L553.50,388.32 L554.83,388.29 L556.17,388.26 L557.50,388.23 L558.83,388.20 L560.17,388.17 L561.50,388.14 L562.83,388.11 L564.17,388.08 L565.50,388.05 L566.83,388.03 L568.17,388.00 L569.50,387.97 L570.83,387.95 L572.17,387.92 L573.50,387.90 L574.83,387.88 L576.17,387.86 L577.50,387.84 L578.83,387.82 L580.17,387.80 L581.50,387.78 L582.83,387.77 L584.17,387.76 L585.50,387.74" fill="none" stroke="#008000" stroke-width="1.8" stroke-linejoin="round"/>
</g>
<rect x="53.8" y="218.5" width="531.7" height="198.0" fill="none" stroke="#000" stroke-width="1.1"/>
<line x1="98.11" y1="218.5" x2="98.11" y2="225.8" stroke="#000" stroke-width="1.0"/>
<line x1="98.11" y1="416.5" x2="98.11" y2="409.2" stroke="#000" stroke-width="1.0"/>
<line x1="171.96" y1="218.5" x2="171.96" y2="225.8" stroke="#000" stroke-width="1.0"/>
<line x1="171.96" y1="416.5" x2="171.96" y2="409.2" stroke="#000" stroke-width="1.0"/>
<line x1="245.80" y1="218.5" x2="245.80" y2="225.8" stroke="#000" stroke-width="1.0"/>
<line x1="245.80" y1="416.5" x2="245.80" y2="409.2" stroke="#000" stroke-width="1.0"/>
<line x1="319.65" y1="218.5" x2="319.65" y2="225.8" stroke="#000" stroke-width="1.0"/>
<line x1="319.65" y1="416.5" x2="319.65" y2="409.2" stroke="#000" stroke-width="1.0"/>
<line x1="393.50" y1="218.5" x2="393.50" y2="225.8" stroke="#000" stroke-width="1.0"/>
<line x1="393.50" y1="416.5" x2="393.50" y2="409.2" stroke="#000" stroke-width="1.0"/>
<line x1="467.34" y1="218.5" x2="467.34" y2="225.8" stroke="#000" stroke-width="1.0"/>
<line x1="467.34" y1="416.5" x2="467.34" y2="409.2" stroke="#000" stroke-width="1.0"/>
<line x1="541.19" y1="218.5" x2="541.19" y2="225.8" stroke="#000" stroke-width="1.0"/>
<line x1="541.19" y1="416.5" x2="541.19" y2="409.2" stroke="#000" stroke-width="1.0"/>
<line x1="53.8" y1="40.31" x2="60.8" y2="40.31" stroke="#000" stroke-width="1.0"/>
<line x1="585.5" y1="40.31" x2="578.5" y2="40.31" stroke="#000" stroke-width="1.0"/>
<line x1="53.8" y1="103.69" x2="60.8" y2="103.69" stroke="#000" stroke-width="1.0"/>
<line x1="585.5" y1="103.69" x2="578.5" y2="103.69" stroke="#000" stroke-width="1.0"/>
<line x1="53.8" y1="167.06" x2="60.8" y2="167.06" stroke="#000" stroke-width="1.0"/>
<line x1="585.5" y1="167.06" x2="578.5" y2="167.06" stroke="#000" stroke-width="1.0"/>
<line x1="53.8" y1="218.50" x2="60.8" y2="218.50" stroke="#000" stroke-width="1.0"/>
<line x1="585.5" y1="218.50" x2="578.5" y2="218.50" stroke="#000" stroke-width="1.0"/>
<line x1="53.8" y1="268.00" x2="60.8" y2="268.00" stroke="#000" stroke-width="1.0"/>
<line x1="585.5" y1="268.00" x2="578.5" y2="268.00" stroke="#000" stroke-width="1.0"/>
<line x1="53.8" y1="317.50" x2="60.8" y2="317.50" stroke="#000" stroke-width="1.0"/>
<line x1="585.5" y1="317.50" x2="578.5" y2="317.50" stroke="#000" stroke-width="1.0"/>
<line x1="53.8" y1="367.00" x2="60.8" y2="367.00" stroke="#000" stroke-width="1.0"/>
<line x1="585.5" y1="367.00" x2="578.5" y2="367.00" stroke="#000" stroke-width="1.0"/>
<line x1="53.8" y1="416.50" x2="60.8" y2="416.50" stroke="#000" stroke-width="1.0"/>
<line x1="585.5" y1="416.50" x2="578.5" y2="416.50" stroke="#000" stroke-width="1.0"/>
<g font-family="Liberation Sans, sans-serif" font-size="15" fill="#000" stroke="#000" stroke-width="0.3">
<text x="40.39" y="45.61" textLength="8.52" lengthAdjust="spacingAndGlyphs">0</text>
<text x="29.80" y="108.99" textLength="10.52" lengthAdjust="spacingAndGlyphs">−</text>
<text x="40.36" y="108.99" textLength="9.30" lengthAdjust="spacingAndGlyphs">8</text>
<text x="21.21" y="172.36" textLength="10.40" lengthAdjust="spacingAndGlyphs">−</text>
<text x="31.50" y="172.36" textLength="17.31" lengthAdjust="spacingAndGlyphs">16</text>
<text x="40.81" y="223.60" textLength="8.17" lengthAdjust="spacingAndGlyphs">3</text>
<text x="40.50" y="273.10" textLength="8.29" lengthAdjust="spacingAndGlyphs">0</text>
<text x="29.70" y="322.60" textLength="10.52" lengthAdjust="spacingAndGlyphs">−</text>
<text x="40.91" y="322.60" textLength="8.17" lengthAdjust="spacingAndGlyphs">3</text>
<text x="29.60" y="372.10" textLength="10.52" lengthAdjust="spacingAndGlyphs">−</text>
<text x="40.09" y="372.10" textLength="9.06" lengthAdjust="spacingAndGlyphs">6</text>
<text x="29.70" y="421.60" textLength="10.52" lengthAdjust="spacingAndGlyphs">−</text>
<text x="40.38" y="421.60" textLength="9.18" lengthAdjust="spacingAndGlyphs">9</text>
<text x="80.99" y="433.60" textLength="10.64" lengthAdjust="spacingAndGlyphs">−</text>
<text x="91.70" y="433.60" textLength="25.95" lengthAdjust="spacingAndGlyphs">150</text>
<text x="154.59" y="433.60" textLength="10.64" lengthAdjust="spacingAndGlyphs">−</text>
<text x="165.51" y="433.60" textLength="25.84" lengthAdjust="spacingAndGlyphs">100</text>
<text x="232.69" y="433.60" textLength="10.64" lengthAdjust="spacingAndGlyphs">−</text>
<text x="243.93" y="433.60" textLength="17.18" lengthAdjust="spacingAndGlyphs">50</text>
<text x="316.30" y="433.60" textLength="8.29" lengthAdjust="spacingAndGlyphs">0</text>
<text x="385.71" y="433.60" textLength="17.51" lengthAdjust="spacingAndGlyphs">50</text>
<text x="455.32" y="433.60" textLength="25.62" lengthAdjust="spacingAndGlyphs">100</text>
<text x="529.34" y="433.60" textLength="25.19" lengthAdjust="spacingAndGlyphs">150</text>
<text x="244.75" y="452.70" textLength="150.57" lengthAdjust="spacingAndGlyphs">Feedback Phase [deg]</text>
<text transform="translate(10.40,0) rotate(-90)" x="-166.18" y="0" textLength="134.39" lengthAdjust="spacingAndGlyphs">Growth Rate [1/ms]</text>
<text transform="translate(17.90,0) rotate(-90)" x="-372.28" y="0" textLength="111.97" lengthAdjust="spacingAndGlyphs">Frequency [kHz]</text>
</g>
</svg>
</body></html>
